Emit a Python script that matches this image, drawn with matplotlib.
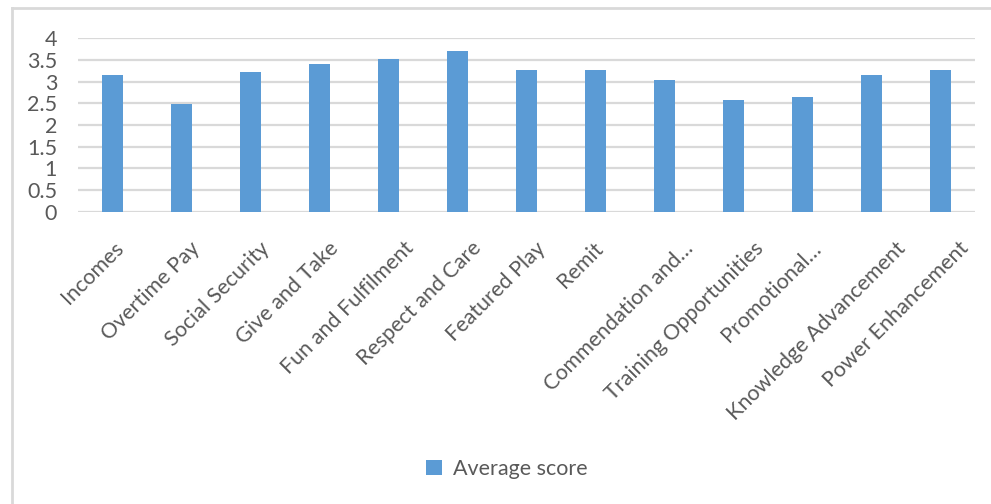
import matplotlib
matplotlib.use("Agg")
import matplotlib.pyplot as plt
from matplotlib.lines import Line2D
from matplotlib.patches import Patch

categories = ["Incomes", "Overtime Pay", "Social Security", "Give and Take",
              "Fun and Fulfilment", "Respect and Care", "Featured Play", "Remit",
              "Commendation and…", "Training Opportunities", "Promotional…",
              "Knowledge Advancement", "Power Enhancement"]
values = [3.15, 2.48, 3.22, 3.41, 3.53, 3.71, 3.28, 3.28, 3.03, 2.57, 2.64, 3.16, 3.28]
yticks = [0, 0.5, 1, 1.5, 2, 2.5, 3, 3.5, 4]
ytick_labels = ["0", "0.5", "1", "1.5", "2", "2.5", "3", "3.5", "4"]
series_name = "Average score"

plt.rcParams['font.family'] = ['Lato', 'DejaVu Sans']
TXT = "#595959"
BAR = "#5b9bd5"
GRID = "#d9d9d9"

W, H = 991, 504
fig = plt.figure(figsize=(W / 100, H / 100), dpi=100)
ax = fig.add_axes([78 / W, 1 - 211.7 / H, (975 - 78) / W, (211.7 - 38.3) / H])

x = list(range(len(categories)))
ax.bar(x, values, width=0.31, color=BAR, zorder=3, label=series_name)
ax.set_xlim(-0.5, len(categories) - 0.5)
ax.set_ylim(0, 4)
ax.set_yticks(yticks)
ax.set_yticklabels(ytick_labels)
ax.yaxis.grid(True, color=GRID, linewidth=1.6, zorder=0)
ax.set_axisbelow(True)
for s in ax.spines.values():
    s.set_visible(False)
ax.tick_params(axis='both', length=0, colors=TXT, labelsize=15.5)
ax.tick_params(axis='y', pad=15)
ax.set_xticks(x)
ax.set_xticklabels([])

# category labels, rotated 45 degrees (Excel-like placement)
DY = -19
anns = []
for i, lab in enumerate(categories):
    a = ax.annotate(lab, xy=(i, 0), xycoords=('data', 'axes fraction'),
                    xytext=(0, DY), textcoords='offset points',
                    rotation=45, ha='right', va='top', rotation_mode='anchor',
                    fontsize=15.5, color=TXT, annotation_clip=False)
    anns.append(a)
fig.canvas.draw()
r = fig.canvas.get_renderer()
for a in anns:
    w = a.get_window_extent(r).width
    dx_px = 0.2 * (w - 65)
    a.xyann = (dx_px * 0.72, DY)

# outer frame
fig.add_artist(Line2D([12 / W, 12 / W], [0, 1 - 8 / H], transform=fig.transFigure,
                      color=GRID, linewidth=2))
fig.add_artist(Line2D([12 / W, 1], [1 - 8 / H, 1 - 8 / H], transform=fig.transFigure,
                      color=GRID, linewidth=2))

handle = Patch(facecolor=BAR, edgecolor='none')
fig.legend([handle], [series_name], loc='center', bbox_to_anchor=(507 / W, 1 - 469 / H),
           frameon=False, fontsize=15.5, labelcolor=TXT, handlelength=0.75,
           handleheight=0.75, handletextpad=0.5)

fig.savefig("out.png", dpi=100, facecolor='white')
